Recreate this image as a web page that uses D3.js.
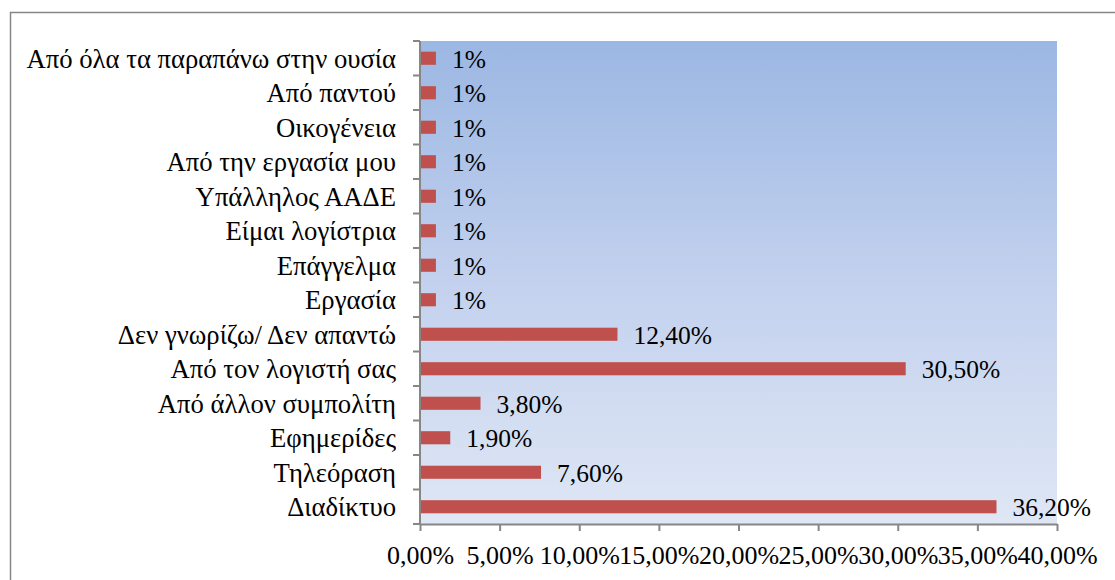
<!DOCTYPE html>
<html>
<head>
<meta charset="utf-8">
<script src="https://cdn.jsdelivr.net/npm/d3@7"></script>
<style>
  body { margin: 0; background: #fff; }
</style>
</head>
<body>
<div id="chart"></div>
<script>
// categories, top to bottom
var categories = [
    "Από όλα τα παραπάνω στην ουσία",
    "Από παντού",
    "Οικογένεια ",
    "Από την εργασία μου",
    "Υπάλληλος ΑΑΔΕ",
    "Είμαι λογίστρια",
    "Επάγγελμα",
    "Εργασία",
    "Δεν γνωρίζω/ Δεν απαντώ",
    "Από τον λογιστή σας",
    "Από άλλον συμπολίτη",
    "Εφημερίδες",
    "Τηλεόραση",
    "Διαδίκτυο"
];
var values = [1, 1, 1, 1, 1, 1, 1, 1, 12.4, 30.5, 3.8, 1.9, 7.6, 36.2];
var valueLabels = ["1%", "1%", "1%", "1%", "1%", "1%", "1%", "1%",
    "12,40%", "30,50%", "3,80%", "1,90%", "7,60%", "36,20%"];
var xTicks = [0, 5, 10, 15, 20, 25, 30, 35, 40];

var svgWidth = 1115;
var svgHeight = 580;
var fontName = "Times New Roman";

var plot = { left: 420, right: 1057, top: 41, bottom: 524 };

var svg = d3.select("#chart")
    .append("svg")
    .attr("width", svgWidth)
    .attr("height", svgHeight)
    .attr("font-family", fontName);

// outer chart frame
svg.append("rect")
    .attr("x", 10.5)
    .attr("y", 12.5)
    .attr("width", 1200)
    .attr("height", 700)
    .attr("fill", "#fff")
    .attr("stroke", "#868686")
    .attr("stroke-width", 1.5);

// plot background gradient
var grad = svg.append("defs").append("linearGradient")
    .attr("id", "bg")
    .attr("x1", 0).attr("y1", 0)
    .attr("x2", 0).attr("y2", 1);
grad.append("stop").attr("offset", "0%").attr("stop-color", "#9bb7e3");
grad.append("stop").attr("offset", "50%").attr("stop-color", "#c3d1ee");
grad.append("stop").attr("offset", "100%").attr("stop-color", "#dfe7f5");

svg.append("rect")
    .attr("x", plot.left)
    .attr("y", plot.top)
    .attr("width", plot.right - plot.left)
    .attr("height", plot.bottom - plot.top)
    .attr("fill", "url(#bg)");

var x = d3.scaleLinear()
    .domain([0, 40])
    .range([plot.left, plot.right]);

var y = d3.scaleBand()
    .domain(categories)
    .range([plot.top, plot.bottom])
    .paddingInner(0.62)
    .paddingOuter(0.31);

var step = y.step();

// bars
svg.selectAll("rect.bar")
    .data(values)
    .enter()
    .append("rect")
    .attr("class", "bar")
    .attr("x", x(0))
    .attr("y", (d, i) => y(categories[i]))
    .attr("width", d => x(d) - x(0))
    .attr("height", y.bandwidth())
    .attr("fill", "#c0504d");

// value labels
svg.selectAll("text.val")
    .data(values)
    .enter()
    .append("text")
    .attr("class", "val")
    .attr("x", d => x(d) + 16)
    .attr("y", (d, i) => y(categories[i]) + y.bandwidth() / 2)
    .attr("dy", "0.38em")
    .attr("font-family", fontName)
    .attr("font-size", 25.5)
    .text((d, i) => valueLabels[i]);

// y axis: line, ticks at band boundaries, labels
var yAxis = svg.append("g");
yAxis.append("line")
    .attr("x1", plot.left).attr("x2", plot.left)
    .attr("y1", plot.top).attr("y2", plot.bottom)
    .attr("stroke", "#868686").attr("stroke-width", 2);
yAxis.selectAll("line.tick")
    .data(d3.range(categories.length + 1))
    .enter()
    .append("line")
    .attr("x1", plot.left - 7).attr("x2", plot.left)
    .attr("y1", i => plot.top + i * step)
    .attr("y2", i => plot.top + i * step)
    .attr("stroke", "#868686").attr("stroke-width", 2);
yAxis.selectAll("text")
    .data(categories)
    .enter()
    .append("text")
    .attr("x", plot.left - 24)
    .attr("y", d => y(d) + y.bandwidth() / 2)
    .attr("dy", "0.35em")
    .attr("text-anchor", "end")
    .attr("font-family", fontName)
    .attr("font-size", 26.7)
    .text(d => d);

// x axis
var xAxis = svg.append("g")
    .attr("transform", `translate(0, ${plot.bottom})`)
    .call(d3.axisBottom(x)
        .tickValues(xTicks)
        .tickSizeInner(7)
        .tickSizeOuter(0)
        .tickPadding(15)
        .tickFormat(d => d.toFixed(2).replace(".", ",") + "%"))
    .attr("font-family", fontName)
    .attr("font-size", 26);
xAxis.select(".domain").attr("stroke", "#868686").attr("stroke-width", 2);
xAxis.selectAll(".tick line").attr("stroke", "#868686").attr("stroke-width", 2);
xAxis.selectAll(".tick text").attr("fill", "#000");
</script>
</body>
</html>
